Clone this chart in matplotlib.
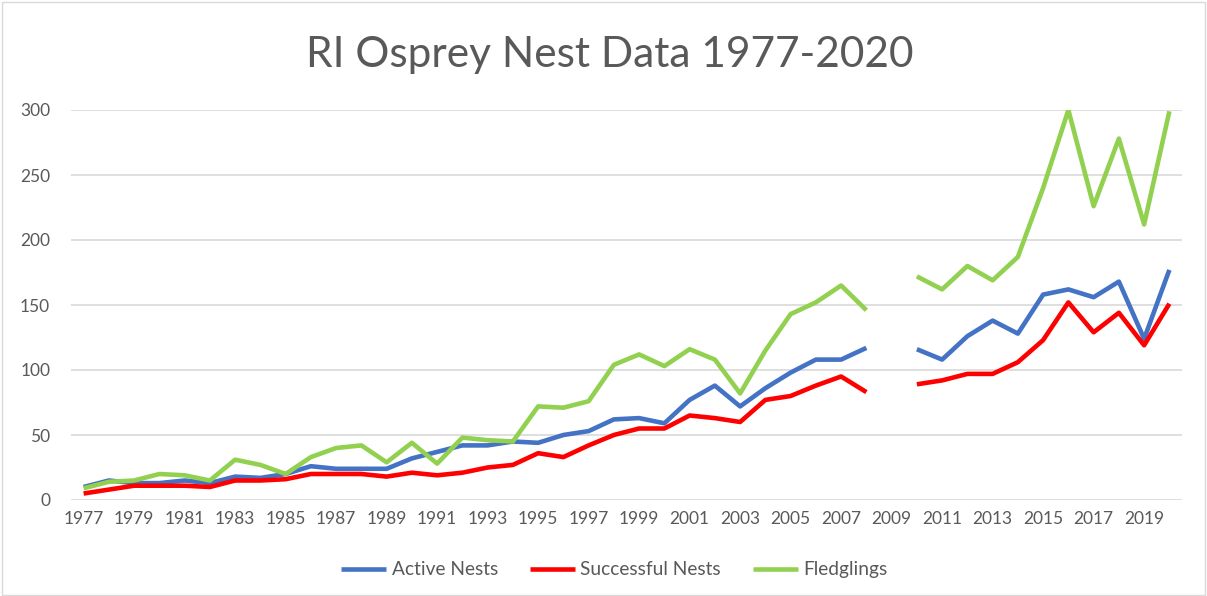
import numpy as np
import matplotlib
matplotlib.use("Agg")
import matplotlib.pyplot as plt
from matplotlib.patches import Rectangle

years = list(range(1977, 2021))
nan = np.nan
active_nests = [10, 15, 13, 13, 15, 13, 18, 17, 20, 26, 24, 24, 24, 32, 37, 42,
                42, 45, 44, 50, 53, 62, 63, 59, 77, 88, 72, 86, 98, 108, 108, 117,
                nan, 116, 108, 126, 138, 128, 158, 162, 156, 168, 124, 177]
successful_nests = [5, 8, 11, 11, 11, 10, 15, 15, 16, 20, 20, 20, 18, 21, 19, 21,
                    25, 27, 36, 33, 42, 50, 55, 55, 65, 63, 60, 77, 80, 88, 95, 83,
                    nan, 89, 92, 97, 97, 106, 123, 152, 129, 144, 119, 151]
fledglings = [9, 14, 15, 20, 19, 15, 31, 27, 20, 33, 40, 42, 29, 44, 28, 48,
              46, 45, 72, 71, 76, 104, 112, 103, 116, 108, 82, 115, 143, 152, 165, 146,
              nan, 172, 162, 180, 169, 187, 240, 300, 226, 278, 212, 299]
series_names = ["Active Nests", "Successful Nests", "Fledglings"]
series_colors = ["#4472C4", "#FF0000", "#92D050"]
title = "RI Osprey Nest Data 1977-2020"

plt.rcParams['font.family'] = ['Lato', 'DejaVu Sans']
text_color = "#595959"

fig = plt.figure(figsize=(12.07, 5.96), dpi=100)
ax = fig.add_axes([71/1207, 96/596, (1182-71)/1207, 390/596])

idx = np.arange(len(years))
for vals, name, col in zip([active_nests, successful_nests, fledglings], series_names, series_colors):
    ax.plot(idx, vals, color=col, lw=3.3, label=name, solid_joinstyle='round', solid_capstyle='butt')

ax.set_xlim(-0.5, len(years) - 0.5)
ax.set_ylim(0, 300)
ax.set_yticks(np.arange(0, 301, 50))
ax.set_xticks(idx[::2])
ax.set_xticklabels([str(y) for y in years[::2]])
ax.grid(axis='y', color='#D9D9D9', lw=1.2)
ax.set_axisbelow(True)
for s in ax.spines.values():
    s.set_visible(False)
ax.tick_params(axis='both', length=0, labelsize=12.5, colors=text_color)
ax.tick_params(axis='y', pad=15)
ax.tick_params(axis='x', pad=8)

fig.text(0.505, 0.907, title, ha='center', va='center', fontsize=30.5, color=text_color)

leg = fig.legend(loc='center', bbox_to_anchor=(0.509, 0.044), ncol=3, frameon=False,
                 fontsize=13.8, handlelength=2.35, columnspacing=1.65, handletextpad=0.3)
for t in leg.get_texts():
    t.set_color(text_color)

fig.patches.append(Rectangle((2/1207, 1/596), 1 - 4/1207, 1 - 3/596, transform=fig.transFigure,
                             fill=False, edgecolor='#D9D9D9', lw=1))

fig.savefig("out.png", dpi=100)
